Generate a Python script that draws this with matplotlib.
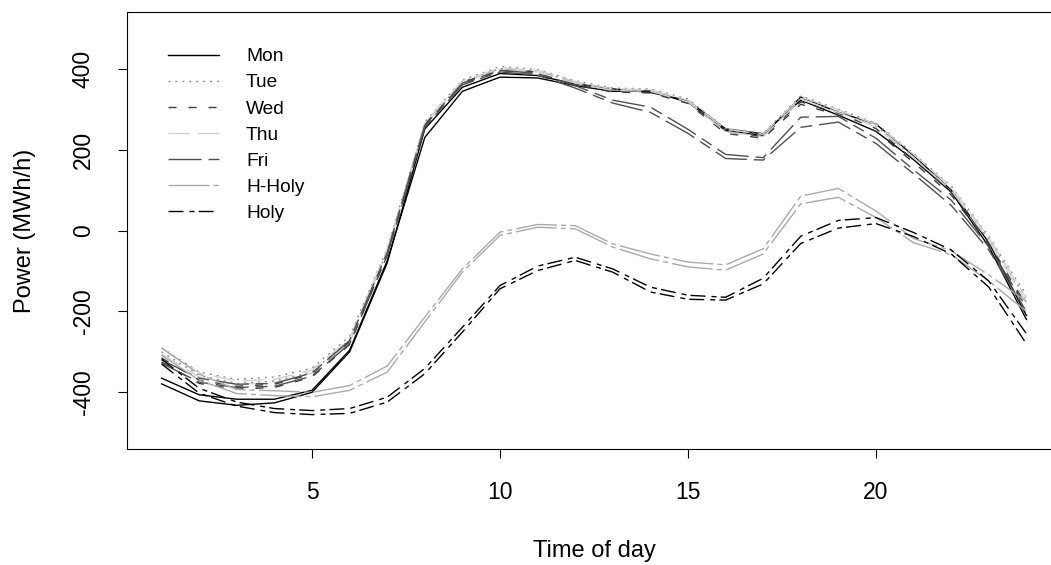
import numpy as np
import matplotlib
matplotlib.use("Agg")
import matplotlib.pyplot as plt

# ========================================= Data ====================================================== #

hours = list(range(1, 25))

mon_a = [-365, -406, -417, -417, -395, -296, -75, 230, 344, 379, 377, 358,
         344, 344, 317, 247, 235, 330, 292, 263, 185, 100, -30, -210]
mon_b = [-379, -421, -432, -426, -400, -300, -80, 251, 354, 388, 383, 362,
         350, 341, 321, 251, 239, 322, 285, 245, 175, 95, -40, -220]

tue_a = [-290, -350, -368, -362, -340, -262, -45, 268, 372, 405, 398, 370,
         352, 350, 325, 252, 240, 333, 300, 265, 190, 110, -15, -160]
tue_b = [-300, -358, -378, -372, -350, -270, -50, 262, 368, 400, 394, 366,
         348, 346, 320, 246, 235, 328, 295, 258, 182, 102, -22, -170]

wed_a = [-315, -370, -385, -380, -355, -275, -55, 262, 366, 398, 392, 365,
         345, 345, 318, 245, 232, 318, 290, 252, 175, 95, -30, -185]
wed_b = [-325, -378, -392, -388, -362, -282, -60, 258, 362, 395, 388, 360,
         342, 340, 314, 240, 228, 312, 285, 245, 168, 88, -35, -195]

thu_a = [-292, -352, -372, -368, -345, -268, -48, 266, 370, 402, 396, 368,
         350, 348, 322, 250, 238, 330, 298, 262, 188, 108, -18, -168]
thu_b = [-305, -362, -380, -376, -352, -276, -52, 260, 366, 398, 392, 364,
         346, 344, 318, 244, 232, 324, 292, 256, 180, 100, -25, -178]

fri_a = [-320, -365, -380, -378, -352, -272, -55, 260, 364, 396, 388, 358,
         322, 305, 250, 188, 180, 280, 282, 228, 150, 75, -40, -190]
fri_b = [-328, -375, -388, -385, -360, -280, -62, 255, 360, 392, 384, 352,
         315, 292, 240, 178, 174, 255, 268, 215, 140, 62, -48, -200]

hholy_a = [-290, -355, -393, -396, -400, -383, -335, -214, -95, -4, 15, 12,
           -33, -58, -78, -85, -45, 85, 104, 48, -20, -50, -110, -175]
hholy_b = [-308, -370, -403, -408, -411, -395, -350, -226, -103, -12, 8, 4,
           -41, -70, -90, -98, -58, 66, 82, 32, -30, -60, -125, -200]

holy_a = [-318, -390, -424, -440, -445, -440, -412, -341, -239, -136, -88, -66,
          -95, -140, -160, -165, -118, -14, 25, 32, -5, -48, -125, -255]
holy_b = [-330, -402, -434, -450, -455, -452, -424, -354, -251, -144, -99, -74,
          -103, -152, -170, -172, -132, -32, 6, 17, -15, -58, -140, -280]

labels = ["Mon", "Tue", "Wed", "Thu", "Fri", "H-Holy", "Holy"]
series = [(mon_a, mon_b), (tue_a, tue_b), (wed_a, wed_b), (thu_a, thu_b),
          (fri_a, fri_b), (hholy_a, hholy_b), (holy_a, holy_b)]

# ========================================= Styles ==================================================== #

colors = ["black", "#8c8c8c", "#3c3c3c", "#d0d0d0", "#505050", "#aaaaaa", "black"]
styles = ["-",
          (0, (1.4, 3.6)),
          (0, (5.8, 8.6)),
          (0, (15, 6.5)),
          (0, (23.8, 5, 8.6, 5)),
          (0, (29.5, 3, 3.6, 3)),
          (0, (10.8, 4.3, 3.6, 3))]

plt.rcParams["font.family"] = ["Liberation Sans", "DejaVu Sans"]
plt.rcParams["axes.unicode_minus"] = False

W, H = 1051, 565
fig = plt.figure(figsize=(W / 100, H / 100), dpi=100)
ax = fig.add_axes([127 / W, 116 / H, (1061 - 127) / W, (449 - 12) / H])

handles = []
for (a, b), col, ls, lab in zip(series, colors, styles, labels):
	l1, = ax.plot(hours, a, color=col, linestyle=ls, linewidth=1.0, label=lab)
	ax.plot(hours, b, color=col, linestyle=ls, linewidth=1.0)
	handles.append(l1)

ax.set_xlim(0.08, 24.92)
ax.set_ylim(-540, 540)
ax.set_xticks([5, 10, 15, 20])
ax.set_yticks([-400, -200, 0, 200, 400])
ax.tick_params(axis="both", direction="out", length=6.8, width=0.8,
               labelsize=16.5, color="black")
ax.tick_params(axis="x", pad=16.5)
ax.tick_params(axis="y", pad=16.5)
for t in ax.get_yticklabels():
	t.set_rotation(90)
	t.set_va("center")
for sp in ax.spines.values():
	sp.set_linewidth(0.8)
	sp.set_color("black")

fig.text(594 / W, (H - 556.7) / H, "Time of day", fontsize=17,
         ha="center", va="baseline")
fig.text(31.5 / W, (H - 230.5) / H, "Power (MWh/h)", fontsize=17,
         ha="center", va="baseline", rotation=90, rotation_mode="anchor")

ax.legend(handles=handles, loc="upper left", frameon=False, fontsize=13.8,
          bbox_to_anchor=(168 / W, 1 - 48 / H), bbox_transform=fig.transFigure,
          borderaxespad=0, borderpad=0, handlelength=2.68, handletextpad=1.39,
          labelspacing=0.45)

fig.savefig("out.png", dpi=100)
